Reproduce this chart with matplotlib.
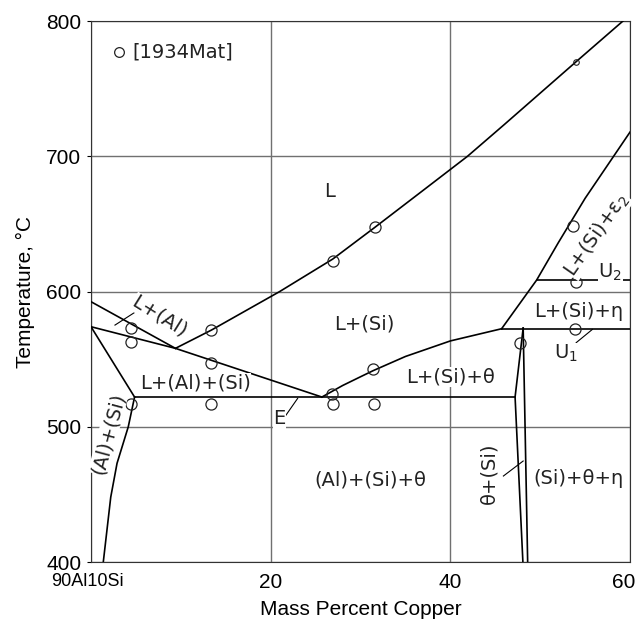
import matplotlib.pyplot as plt
from matplotlib.transforms import ScaledTranslation

# phase boundaries, mass % Cu vs temperature (C)
liq_si_cu = [9.4, 13.4, 21.0, 26.9, 31.6, 37.0, 41.9, 46.0, 54.0, 59.2]
liq_si_t = [558, 571.5, 600, 624, 647.5, 675, 700, 723.5, 770, 800]
liq_al_cu = [0, 9.4]
liq_al_t = [592.5, 558]
mono_cu = [0, 9.4, 25.7]
mono_t = [574, 558, 522]
solvus_cu = [0, 4.85]
solvus_t = [574, 522]
solidus_cu = [4.85, 4.15, 2.9, 2.2, 1.37]
solidus_t = [522, 500, 473, 448, 400]
eut_cu = [4.85, 47.2]
eut_t = [522, 522]
theta_liq_cu = [25.7, 28, 30, 31.4, 35, 40, 45.7]
theta_liq_t = [522, 530.5, 537, 541.5, 552, 563.5, 572.5]
u1_cu = [45.7, 60]
u1_t = [572.5, 572.5]
theta_l_cu = [48.1, 47.2, 48.07]
theta_l_t = [573, 522, 400]
theta_r_cu = [48.1, 48.6]
theta_r_t = [573, 400]
eps_cu = [45.7, 49.6, 52.0, 55.0, 60]
eps_t = [572.5, 608.5, 636, 669, 718]
u2_cu = [49.6, 60]
u2_t = [608.5, 608.5]

# experimental points [1934Mat]
pts_cu = [4.4, 4.4, 4.4, 13.4, 13.4, 13.4, 26.9, 26.8, 26.9, 31.6, 31.4, 31.5,
          47.8, 53.7, 54.0, 53.9]
pts_t = [573, 563, 517, 571.5, 547, 517, 622.5, 524.5, 517, 648, 542.5, 517,
         562, 648.5, 606.7, 572]
small_cu = [54.0]
small_t = [770]

# phase labels: text, x, y, rotation
labels = [
    ('L', 26.6, 674, 0),
    ('L+(Si)', 30.4, 576, 0),
    ('L+(Al)', 7.6, 581.5, -32),
    ('L+(Al)+(Si)', 11.6, 532.3, 0),
    ('E', 21.0, 506, 0),
    ('(Al)+(Si)', 1.9, 495, 75),
    ('L+(Si)+θ', 40.0, 537, 0),
    ('L+(Si)+η', 54.3, 585.6, 0),
    ('U$_1$', 52.9, 554, 0),
    ('U$_2$', 57.8, 614, 0),
    ('L+(Si)+ε$_2$', 56.3, 642, 55),
    ('(Al)+(Si)+θ', 31.1, 460.6, 0),
    ('θ+(Si)', 44.3, 466, 90),
    ('(Si)+θ+η', 54.3, 462, 0),
]
leaders = [
    ([2.67, 5.27], [575.2, 586.3]),
    ([21.7, 23.0], [508.6, 521]),
    ([54.0, 55.8], [562.2, 572]),
    ([45.9, 48.1], [463.6, 474.7]),
]

fig = plt.figure(figsize=(6.38, 6.2), dpi=100)
ax = fig.add_axes([0.1426, 0.0935, 0.845, 0.8725])

lines = [(liq_si_cu, liq_si_t), (liq_al_cu, liq_al_t), (mono_cu, mono_t),
         (solvus_cu, solvus_t), (solidus_cu, solidus_t), (eut_cu, eut_t),
         (theta_liq_cu, theta_liq_t), (u1_cu, u1_t), (theta_l_cu, theta_l_t),
         (theta_r_cu, theta_r_t), (eps_cu, eps_t), (u2_cu, u2_t)]
for cu, t in lines:
    ax.plot(cu, t, color='black', lw=1.2, zorder=3)
for cu, t in leaders:
    ax.plot(cu, t, color='black', lw=0.8, zorder=3)

ax.plot(pts_cu, pts_t, 'o', mfc='none', mec='#222222', ms=8, mew=0.9, zorder=4)
ax.plot(small_cu, small_t, 'o', mfc='none', mec='#222222', ms=4, mew=0.8, zorder=4)

for txt, x, y, rot in labels:
    ax.text(x, y, txt, rotation=rot, ha='center', va='center', fontsize=14,
            color='#222222', zorder=5,
            bbox=dict(facecolor='white', edgecolor='none', pad=0.3))

# legend-like key
ax.plot([3.1], [777], 'o', mfc='none', mec='#222222', ms=7, mew=0.9)
ax.text(4.6, 777, '[1934Mat]', ha='left', va='center', fontsize=14, color='#222222')

ax.set_xlim(0, 60)
ax.set_ylim(400, 800)
ax.set_xticks([0, 20, 40, 60])
ax.set_xticklabels(['', '20', '40', '60'])
ax.set_yticks([400, 500, 600, 700, 800])
ax.grid(True, color='#707070', lw=1.0)
ax.set_axisbelow(True)
ax.tick_params(axis='x', length=0, labelsize=15, pad=8)
ax.tick_params(axis='y', length=3, labelsize=15, pad=4)
for lab in ax.get_xticklabels() + ax.get_yticklabels():
    lab.set_family('Liberation Sans')
last = ax.get_xticklabels()[-1]
last.set_transform(last.get_transform() + ScaledTranslation(-6 / 100, 0, fig.dpi_scale_trans))
for s in ax.spines.values():
    s.set_color('#333333')

ax.text(-0.4, -0.02, '90Al10Si', transform=ax.get_xaxis_transform(),
        ha='center', va='top', fontsize=13, family='Liberation Sans')
ax.set_xlabel('Mass Percent Copper', fontsize=15, family='Liberation Sans', labelpad=6)
ax.set_ylabel('Temperature, °C', fontsize=15, family='Liberation Sans', labelpad=8)

plt.savefig('out.png', dpi=100)
